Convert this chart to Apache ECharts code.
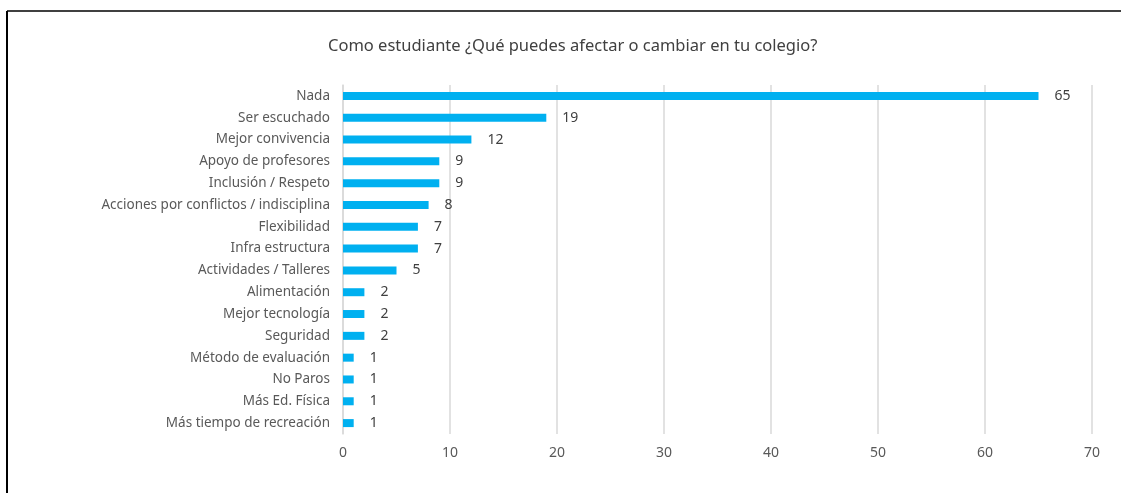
<!DOCTYPE html>
<html>
<head>
<meta charset="utf-8">
<script src="https://cdn.jsdelivr.net/npm/echarts@6/dist/echarts.min.js"></script>
<style>
  html, body { margin: 0; padding: 0; background: #fff; }
  #chart { width: 1121px; height: 493px; }
</style>
</head>
<body>
<div id="chart"></div>
<script>
// Answers, listed from top to bottom as shown
const categories = [
  'Nada', 'Ser escuchado', 'Mejor convivencia', 'Apoyo de profesores',
  'Inclusión / Respeto', 'Acciones por conflictos / indisciplina', 'Flexibilidad',
  'Infra estructura', 'Actividades / Talleres', 'Alimentación', 'Mejor tecnología',
  'Seguridad', 'Método de evaluación', 'No Paros', 'Más Ed. Física',
  'Más tiempo de recreación'
];
const counts = [65, 19, 12, 9, 9, 8, 7, 7, 5, 2, 2, 2, 1, 1, 1, 1];
const titleText = 'Como estudiante ¿Qué puedes afectar o cambiar en tu colegio?';

const font = '"Noto Sans", Lato, sans-serif';
const chart = echarts.init(document.getElementById('chart'));

chart.setOption({
  animation: false,
  title: {
    text: titleText,
    left: 323,
    top: 33,
    textStyle: { fontFamily: font, fontSize: 16.5, fontWeight: 'normal', color: '#404040' }
  },
  graphic: [
    { type: 'line', shape: { x1: 7, y1: 11, x2: 1121, y2: 11 }, style: { stroke: '#000', lineWidth: 1.5 } },
    { type: 'line', shape: { x1: 7, y1: 11, x2: 7, y2: 493 }, style: { stroke: '#000', lineWidth: 2 } }
  ],
  grid: { left: 343, right: 29, top: 85, bottom: 59 },
  xAxis: {
    type: 'value',
    min: 0, max: 70, interval: 10,
    axisLine: { show: false },
    axisTick: { show: false },
    splitLine: { lineStyle: { color: '#d9d9d9', width: 1.5 } },
    axisLabel: { fontFamily: font, fontSize: 14, color: '#595959', margin: 12 }
  },
  yAxis: {
    type: 'category',
    inverse: true,
    data: categories,
    axisLine: { show: true, lineStyle: { color: '#d9d9d9', width: 1.5 } },
    axisTick: { show: false },
    axisLabel: { fontFamily: font, fontSize: 13.5, color: '#595959', margin: 13, padding: [2, 0, 0, 0] }
  },
  series: [{
    type: 'bar',
    data: counts,
    barWidth: 8,
    itemStyle: { color: '#00B0F0' },
    label: {
      show: true,
      position: 'right',
      distance: 16,
      fontFamily: font,
      fontSize: 14,
      color: '#404040',
      padding: [2, 0, 0, 0]
    }
  }]
});
</script>
</body>
</html>
